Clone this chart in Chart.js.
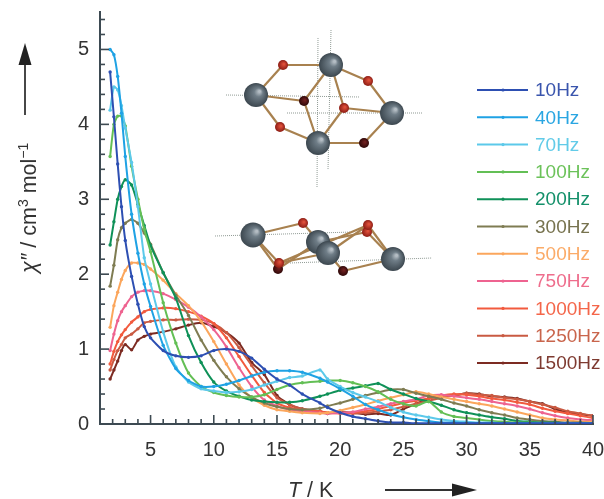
<!DOCTYPE html>
<html>
<head>
<meta charset="utf-8">
<title>chi'' vs T</title>
<script src="https://cdn.jsdelivr.net/npm/chart.js@4/dist/chart.umd.min.js"></script>
<style>
  html, body { margin: 0; padding: 0; background: #fff; }
  canvas { display: block; filter: blur(0.4px); }
</style>
</head>
<body>
<canvas id="grafico" width="604" height="499"></canvas>
<script>
// Temperature grid (K)
const temperaturas = [1.8,2.1,2.4,2.7,3,3.5,4,4.5,5,6,7,8,9,10,11,12,13,14,15,16,17,18.4,19,20,21,22,23,24,25,26,27,28,29,30,31,32,33,34,35,36,37,38,39,40];

// chi'' per frequency
const s10   = [4.7,4.1,3.47,2.9,2.45,1.97,1.6,1.3,1.15,.98,.91,.89,.91,.98,1.0,.97,.88,.73,.6,.52,.4,.28,.22,.15,.1,.07,.04,.02,.02,.01,.01,.01,.01,.01,.01,.01,.01,.01,.01,.01,.01,.01,.01,.01];
const s40   = [5.0,4.93,4.64,4.15,3.57,2.8,2.28,1.87,1.57,1.05,.74,.58,.5,.5,.53,.58,.64,.69,.71,.71,.69,.61,.56,.47,.37,.26,.19,.13,.09,.06,.04,.02,.02,.01,.01,.01,.01,.01,.01,.01,.01,.01,.01,.01];
const s70   = [4.19,4.5,4.46,4.25,3.95,3.49,2.9,2.22,1.87,1.23,.76,.56,.47,.44,.42,.43,.46,.52,.57,.62,.64,.72,.6,.5,.42,.36,.3,.22,.16,.12,.09,.06,.04,.03,.02,.02,.01,.01,.01,.01,.01,.01,.01,.01];
const s100  = [3.57,4.0,4.11,4.11,3.98,3.44,3.0,2.6,2.3,1.62,1.08,.68,.5,.42,.38,.36,.36,.39,.46,.52,.55,.57,.58,.58,.55,.5,.43,.33,.27,.24,.3,.16,.1,.08,.06,.04,.03,.02,.02,.01,.01,.01,.01,.01];
const s200  = [2.39,2.7,3.0,3.17,3.26,3.19,2.93,2.65,2.38,2.02,1.68,1.18,.82,.56,.44,.37,.32,.3,.29,.29,.31,.37,.4,.45,.48,.51,.54,.46,.4,.34,.3,.25,.19,.15,.12,.09,.07,.04,.03,.02,.02,.01,.01,.01];
const s300  = [1.84,2.12,2.46,2.62,2.68,2.73,2.68,2.55,2.4,2.02,1.72,1.45,1.12,.85,.63,.47,.36,.28,.23,.2,.19,.21,.24,.28,.33,.38,.42,.46,.46,.41,.37,.33,.28,.24,.19,.15,.12,.08,.06,.04,.03,.02,.02,.01];
const s500  = [1.29,1.58,1.76,1.93,2.05,2.15,2.15,2.13,2.07,1.92,1.74,1.58,1.37,1.1,.8,.52,.35,.25,.19,.17,.15,.14,.15,.18,.22,.26,.31,.35,.39,.43,.4,.36,.33,.3,.27,.24,.2,.16,.12,.08,.06,.05,.03,.03];
const s750  = [.98,1.2,1.38,1.5,1.58,1.7,1.76,1.78,1.78,1.74,1.66,1.56,1.43,1.26,1.03,.75,.5,.32,.24,.19,.17,.15,.14,.15,.16,.2,.23,.27,.3,.33,.38,.39,.37,.35,.33,.3,.27,.24,.2,.15,.11,.08,.06,.05];
const s1000 = [.8,.97,1.1,1.19,1.26,1.36,1.43,1.5,1.53,1.55,1.54,1.5,1.44,1.34,1.15,.9,.65,.42,.28,.22,.19,.17,.15,.14,.15,.17,.2,.24,.28,.31,.34,.38,.4,.39,.37,.34,.32,.29,.26,.21,.17,.14,.11,.08];
const s1250 = [.72,.86,.98,1.06,1.15,1.2,1.27,1.35,1.37,1.39,1.39,1.4,1.39,1.34,1.22,1.02,.78,.55,.35,.26,.2,.17,.15,.15,.14,.15,.17,.19,.23,.27,.31,.35,.38,.41,.39,.38,.35,.33,.3,.26,.22,.17,.14,.11];
const s1500 = [.6,.72,.84,.98,1.06,.99,1.12,1.17,1.2,1.23,1.27,1.32,1.35,1.3,1.22,1.08,.82,.66,.38,.26,.2,.16,.14,.16,.15,.13,.14,.12,.2,.27,.34,.37,.38,.41,.4,.37,.36,.34,.3,.27,.2,.15,.13,.11];

const frequencias = ['10Hz','40Hz','70Hz','100Hz','200Hz','300Hz','500Hz','750Hz','1000Hz','1250Hz','1500Hz'];
const series = [s10,s40,s70,s100,s200,s300,s500,s750,s1000,s1250,s1500];
const cores = ['#2d4fb2','#1fa2e4','#5cc9ea','#63bf55','#0f9158','#7f7c52','#fba65c','#ee6390','#f25a3e','#c95a42','#7c2b22'];
const coresTexto = ['#3a55ad','#2aa6e2','#62cbe8','#6cc25a','#14906a','#77734f','#fbab68','#ee6d8c','#f4664a','#c9654c','#7e3a30'];

const ticksY = [0,1,2,3,4,5];
const corEixo = '#3d4a52';
const corTexto = '#333333';
const fonte = '"Liberation Sans", Arial, sans-serif';

function seta(ctx, x1, y1, x2, y2, base, meia) {
  // arrow from (x1,y1) to (x2,y2), head starts "base" px before the tip
  const ang = Math.atan2(y2 - y1, x2 - x1);
  ctx.save();
  ctx.translate(x2, y2);
  ctx.rotate(ang);
  const L = Math.hypot(x2 - x1, y2 - y1);
  ctx.strokeStyle = '#333';
  ctx.fillStyle = '#222';
  ctx.lineWidth = 1.8;
  ctx.beginPath(); ctx.moveTo(-L, 0); ctx.lineTo(-base, 0); ctx.stroke();
  ctx.beginPath(); ctx.moveTo(0, 0); ctx.lineTo(-base, -meia); ctx.lineTo(-base, meia); ctx.closePath(); ctx.fill();
  ctx.restore();
}

// mixed runs of text (italic, superscript)
function textoMisto(ctx, pedacos, x, y) {
  ctx.textAlign = 'left';
  ctx.textBaseline = 'alphabetic';
  ctx.fillStyle = corTexto;
  pedacos.forEach(p => {
    ctx.font = (p.it ? 'italic ' : '') + (p.sup ? 14 : 21.5) + 'px ' + fonte;
    ctx.fillText(p.t, x, y - (p.sup ? 8 : 0));
    x += ctx.measureText(p.t).width;
  });
}

function bola(ctx, x, y, r) {
  const g = ctx.createRadialGradient(x + r * .3, y - r * .3, 1, x, y, r);
  g.addColorStop(0, '#b4bdc4');
  g.addColorStop(.3, '#6f7d87');
  g.addColorStop(1, '#3c474f');
  ctx.fillStyle = g;
  ctx.beginPath(); ctx.arc(x, y, r, 0, Math.PI * 2); ctx.fill();
}

function oxigenio(ctx, x, y, escuro) {
  const g = ctx.createRadialGradient(x + 1, y - 1, .5, x, y, 5);
  g.addColorStop(0, escuro ? '#702020' : '#e0503a');
  g.addColorStop(1, escuro ? '#2e0808' : '#8c1c14');
  ctx.fillStyle = g;
  ctx.beginPath(); ctx.arc(x, y, 5, 0, Math.PI * 2); ctx.fill();
}

// Inset: the two views of the molecule (illustration, not data)
function desenhaMolecula(ctx) {
  const pontilhado = (l) => {
    ctx.save();
    ctx.strokeStyle = '#8f9a94';
    ctx.lineWidth = 1;
    ctx.setLineDash([1, 1]);
    l.forEach(s => { ctx.beginPath(); ctx.moveTo(s[0], s[1]); ctx.lineTo(s[2], s[3]); ctx.stroke(); });
    ctx.restore();
  };
  const ligacoes = (l) => {
    ctx.save();
    ctx.strokeStyle = '#a8814f';
    ctx.lineWidth = 2.2;
    l.forEach(s => { ctx.beginPath(); ctx.moveTo(s[0], s[1]); ctx.lineTo(s[2], s[3]); ctx.stroke(); });
    ctx.restore();
  };

  // top view
  const A = [256,95], B = [331,65], C = [392,113], D = [318,143];
  const a = [283,65], b = [368,81], c = [304,101], d = [344,108], e = [280,127], f = [364,143];
  pontilhado([[226,95,360,97],[331,30,328,170],[318,38,317,187],[287,113,422,113]]);
  ligacoes([[...A,...a],[...a,...B],[...B,...b],[...b,...C],[...C,...f],[...f,...D],[...D,...e],[...e,...A],[...A,...c],[...c,...B],[...c,...D],[...B,...d],[...d,...C],[...d,...D]]);
  bola(ctx, ...A, 12); bola(ctx, ...B, 12); bola(ctx, ...C, 12); bola(ctx, ...D, 12);
  oxigenio(ctx, ...a); oxigenio(ctx, ...b); oxigenio(ctx, ...c, true); oxigenio(ctx, ...d); oxigenio(ctx, ...e); oxigenio(ctx, ...f, true);

  // side view
  const P = [253,235], Q = [318,242], R = [328,253], S = [393,259];
  const g1 = [303,223], g2 = [368,225], g3 = [367,232], g4 = [279,263], g5 = [278,269], g6 = [343,271];
  pontilhado([[215,236,353,232],[290,263,432,258]]);
  ligacoes([[...P,...g1],[...g1,...R],[...P,...g4],[...P,...g5],[...g4,...R],[...g4,...g2],[...g5,...Q],[...Q,...g3],[...g2,...S],[...g3,...S],[...R,...g2],[...g6,...S],[...g6,...R]]);
  oxigenio(ctx, ...g3); oxigenio(ctx, ...g5, true);
  bola(ctx, ...P, 12.5); bola(ctx, ...Q, 12); bola(ctx, ...R, 12); bola(ctx, ...S, 12);
  oxigenio(ctx, ...g1); oxigenio(ctx, ...g2); oxigenio(ctx, ...g4); oxigenio(ctx, ...g6, true);
}

// inward ticks, legend, axis titles, arrows and the inset
const extras = {
  id: 'extras',
  afterDatasetsDraw(chart) {
    const { ctx, scales: { x, y } } = chart;
    ctx.save();

    ctx.strokeStyle = corEixo;
    ctx.lineWidth = 1.6;
    for (let v = 2; v <= 40; v++) {
      const px = x.getPixelForValue(v);
      const comp = v % 5 === 0 ? 9 : 5;
      ctx.beginPath(); ctx.moveTo(px, y.bottom); ctx.lineTo(px, y.bottom - comp); ctx.stroke();
    }
    for (let i = 1; i <= 27; i++) {
      const py = y.getPixelForValue(i / 5);
      const comp = i % 5 === 0 ? 9 : 5;
      ctx.beginPath(); ctx.moveTo(x.left, py); ctx.lineTo(x.left + comp, py); ctx.stroke();
    }

    desenhaMolecula(ctx);

    // legend
    frequencias.forEach((nome, i) => {
      const ly = 90 + i * 27.3;
      ctx.strokeStyle = cores[i];
      ctx.fillStyle = cores[i];
      ctx.lineWidth = 2;
      ctx.beginPath(); ctx.moveTo(477, ly); ctx.lineTo(528, ly); ctx.stroke();
      ctx.beginPath(); ctx.arc(503, ly, 1.6, 0, Math.PI * 2); ctx.fill();
      ctx.fillStyle = coresTexto[i];
      ctx.font = '19px ' + fonte;
      ctx.textAlign = 'left';
      ctx.textBaseline = 'middle';
      ctx.fillText(nome, 535, ly + 1);
    });

    // x title + arrow
    textoMisto(ctx, [{ t: 'T', it: true }, { t: ' / K' }], 288, 497);
    seta(ctx, 385, 490, 477, 490, 25, 6.5);

    // y title + arrow
    ctx.save();
    ctx.translate(36, 273);
    ctx.rotate(-Math.PI / 2);
    textoMisto(ctx, [{ t: 'χ″', it: true }, { t: ' / cm' }, { t: '3', sup: true }, { t: ' mol' }, { t: '−1', sup: true }], 0, 0);
    ctx.restore();
    seta(ctx, 25, 115, 25, 43, 22, 6.5);

    ctx.restore();
  }
};

new Chart(document.getElementById('grafico').getContext('2d'), {
  type: 'line',
  data: {
    labels: temperaturas,
    datasets: frequencias.map((nome, i) => ({
      label: nome,
      data: temperaturas.map((t, k) => ({ x: t, y: series[i][k] })),
      borderColor: cores[i],
      backgroundColor: cores[i],
      borderWidth: 2,
      pointRadius: 1.7,
      pointBorderWidth: 0,
      tension: 0.2
    }))
  },
  plugins: [extras],
  options: {
    responsive: false,
    animation: false,
    layout: { padding: { top: 12 } },
    plugins: { legend: { display: false }, tooltip: { enabled: false } },
    scales: {
      x: {
        type: 'linear',
        min: 1,
        max: 40,
        grid: { display: false, drawTicks: false },
        border: { color: corEixo, width: 2 },
        afterFit: s => { s.height = 75; s.paddingRight = 11; s.paddingLeft = 0; },
        ticks: {
          stepSize: 1,
          autoSkip: false,
          maxRotation: 0,
          padding: 14,
          color: corTexto,
          font: { family: fonte, size: 20 },
          callback: v => (v % 5 === 0 ? String(v) : '')
        }
      },
      y: {
        min: 0,
        max: 5.5,
        grid: { display: false, drawTicks: false },
        border: { color: corEixo, width: 2 },
        afterFit: s => { s.width = 100; s.paddingTop = 0; s.paddingBottom = 0; },
        afterBuildTicks: s => { s.ticks = ticksY.map(v => ({ value: v })); },
        ticks: {
          padding: 11,
          color: corTexto,
          font: { family: fonte, size: 20 },
          callback: v => String(v)
        }
      }
    }
  }
});
</script>
</body>
</html>
